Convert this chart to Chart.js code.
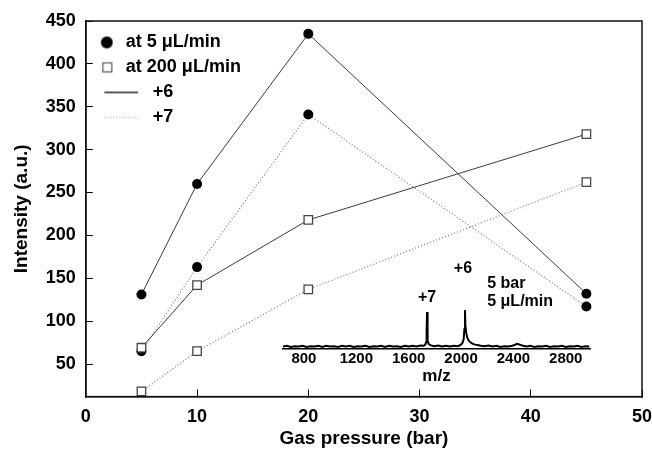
<!DOCTYPE html>
<html>
<head>
<meta charset="utf-8">
<script src="https://cdn.jsdelivr.net/npm/chart.js@4.4.1/dist/chart.umd.min.js"></script>
<style>
  body { margin: 0; background: #fff; }
  #wrap { position: relative; width: 652px; height: 450px; }
  #mainChart { position: absolute; left: 0; top: 0; }
  #insetChart { position: absolute; left: 270px; top: 255px; pointer-events: none; }
</style>
</head>
<body>
<div id="wrap">
  <canvas id="mainChart" width="652" height="450"></canvas>
  <canvas id="insetChart" width="340" height="135"></canvas>
</div>
<script>
// main plot: intensity vs gas pressure
const pressure = [5, 10, 20, 45];
const flow5Plus6 = [131, 260, 435, 132];
const flow5Plus7 = [65, 163, 341, 117];
const flow200Plus6 = [69, 142, 218, 318];
const flow200Plus7 = [18, 65, 137, 262];
const yTicks = [50, 100, 150, 200, 250, 300, 350, 400, 450];

// inset: mass spectrum at 5 bar, 5 uL/min
const specMz = [640, 670, 700, 730, 760, 790, 820, 850, 880, 910, 940, 970, 1000, 1030, 1060, 1090,
  1120, 1150, 1180, 1210, 1240, 1270, 1300, 1330, 1360, 1390, 1420, 1450, 1480, 1510, 1540, 1570,
  1600, 1630, 1660, 1690,
  1715, 1727, 1733, 1736, 1738, 1740, 1742, 1747, 1755, 1770,
  1795, 1825, 1855, 1885, 1915, 1945, 1975, 1995,
  2010, 2020, 2025, 2030, 2033, 2039, 2046, 2056, 2071, 2086, 2106, 2126,
  2150, 2180, 2210, 2240, 2270, 2300, 2330, 2360, 2390,
  2410, 2425, 2440, 2455, 2475,
  2500, 2530, 2560, 2590, 2620, 2650, 2680, 2710, 2740, 2770, 2800, 2830, 2860, 2890, 2920, 2950, 2980];
const specInt = [5, 7, 4, 6, 5, 7, 4, 6, 5, 7, 4, 7, 5, 6, 4, 7,
  5, 7, 4, 6, 5, 7, 4, 6, 5, 7, 4, 7, 5, 6, 4, 7,
  5, 7, 5, 8,
  7, 10, 16, 38, 42, 95, 36, 20, 11, 8,
  6, 8, 5, 7, 5, 7, 6, 9,
  14, 24, 50, 100, 62, 42, 30, 22, 16, 13, 10, 9,
  7, 6, 8, 5, 7, 4, 6, 5, 7,
  9, 12, 11, 9, 7,
  5, 7, 4, 6, 5, 7, 4, 6, 5, 7, 4, 6, 5, 7, 4, 6, 5];
const specTicks = [800, 1200, 1600, 2000, 2400, 2800];
const peakMz = [1740, 2030];
const peakLabels = ['+7', '+6'];
const specNote = ['5 bar', '5 μL/min'];

Chart.defaults.font.family = "'Liberation Sans', Arial, sans-serif";
Chart.defaults.color = '#000';

function makeIcon(w, h, draw) {
  const c = document.createElement('canvas');
  c.width = w; c.height = h;
  draw(c.getContext('2d'));
  return c;
}
const circleIcon = makeIcon(17, 14, g => {
  g.fillStyle = '#000';
  g.beginPath(); g.arc(10.5, 7, 6, 0, Math.PI * 2); g.fill();
});
const squareIcon = makeIcon(17, 14, g => {
  g.fillStyle = '#fff'; g.strokeStyle = '#555'; g.lineWidth = 1.2;
  g.fillRect(6.5, 2.5, 9, 9); g.strokeRect(6.5, 2.5, 9, 9);
});
const solidIcon = makeIcon(67, 4, g => {
  g.strokeStyle = '#222'; g.lineWidth = 1.3;
  g.beginPath(); g.moveTo(33, 2); g.lineTo(67, 2); g.stroke();
});
const dottedIcon = makeIcon(67, 4, g => {
  g.strokeStyle = '#888'; g.lineWidth = 1; g.setLineDash([1, 2]);
  g.beginPath(); g.moveTo(33, 2); g.lineTo(67, 2); g.stroke();
});

const legendItems = [
  { text: 'at 5 μL/min', pointStyle: circleIcon },
  { text: 'at 200 μL/min', pointStyle: squareIcon },
  { text: '\u2002\u2002\u2002+6', pointStyle: solidIcon },
  { text: '\u2002\u2002\u2002+7', pointStyle: dottedIcon }
].map(it => Object.assign(it, { fontColor: '#000', fillStyle: '#000', strokeStyle: '#000', lineWidth: 0, hidden: false }));

function series(values) {
  return pressure.map((x, i) => ({ x: x, y: values[i] }));
}
const solidLine = { borderColor: '#3a3a3a', borderWidth: 1, borderDash: [] };
const dottedLine = { borderColor: '#777', borderWidth: 1.2, borderDash: [1, 2.2] };
const circleMark = { pointStyle: 'circle', pointRadius: 5, pointBackgroundColor: '#000', pointBorderColor: '#000', pointBorderWidth: 0 };
const squareMark = { pointStyle: 'rect', pointRadius: 6, pointBackgroundColor: '#fff', pointBorderColor: '#444', pointBorderWidth: 1.3 };

const frame = {
  id: 'frame',
  afterDraw(chart) {
    const a = chart.chartArea, ctx = chart.ctx;
    ctx.save();
    ctx.strokeStyle = '#111'; ctx.lineWidth = 1.5;
    ctx.strokeRect(a.left, a.top, a.right - a.left, a.bottom - a.top);
    ctx.restore();
  }
};

const axisCommon = {
  grid: { display: true, drawOnChartArea: false, drawTicks: true, tickLength: -7, color: '#000', lineWidth: 1 },
  border: { display: true, color: '#000', width: 1.5 }
};

new Chart(document.getElementById('mainChart'), {
  type: 'scatter',
  data: {
    datasets: [
      Object.assign({ label: '200 +6', data: series(flow200Plus6), showLine: true }, solidLine, squareMark),
      Object.assign({ label: '200 +7', data: series(flow200Plus7), showLine: true }, dottedLine, squareMark),
      Object.assign({ label: '5 +6', data: series(flow5Plus6), showLine: true }, solidLine, circleMark),
      Object.assign({ label: '5 +7', data: series(flow5Plus7), showLine: true }, dottedLine, circleMark)
    ]
  },
  options: {
    responsive: false,
    animation: false,
    events: [],
    layout: { padding: { left: 10, right: 10, top: 21, bottom: 0 } },
    plugins: {
      tooltip: { enabled: false },
      legend: {
        position: 'chartArea',
        align: 'start',
        title: { display: true, text: '', font: { size: 22 }, padding: 0 },
        labels: {
          usePointStyle: true,
          pointStyleWidth: 24,
          padding: 7,
          font: { size: 18, weight: 'bold' },
          color: '#000',
          generateLabels: () => legendItems
        }
      }
    },
    scales: {
      x: Object.assign({
        type: 'linear', min: 0, max: 50,
        ticks: { stepSize: 10, font: { size: 18, weight: 'bold' }, padding: 17, maxRotation: 0 },
        title: { display: true, text: 'Gas pressure (bar)', font: { size: 19, weight: 'bold' }, padding: { top: 0, bottom: 0 } },
        afterFit: s => { s.height -= 18; s.paddingLeft = 0; s.paddingRight = 0; }
      }, axisCommon),
      y: Object.assign({
        type: 'linear', min: 12, max: 450,
        afterBuildTicks: s => { s.ticks = yTicks.map(v => ({ value: v })); },
        ticks: { font: { size: 18, weight: 'bold' }, padding: 17 },
        title: { display: true, text: 'Intensity (a.u.)', font: { size: 19, weight: 'bold' }, padding: { top: 0, bottom: 13 } },
        afterFit: s => { s.width -= 17; s.paddingTop = 0; s.paddingBottom = 0; }
      }, axisCommon)
    }
  },
  plugins: [frame]
});

const insetLabels = {
  id: 'insetLabels',
  afterDatasetsDraw(chart) {
    const xs = chart.scales.x, ys = chart.scales.y, ctx = chart.ctx;
    ctx.save();
    ctx.fillStyle = '#000';
    ctx.font = "bold 16px 'Liberation Sans', Arial, sans-serif";
    ctx.textBaseline = 'middle';
    ctx.textAlign = 'center';
    const peakTop = peakMz.map(m => {
      const i = specMz.indexOf(m);
      return i >= 0 ? specInt[i] : 100;
    });
    ctx.fillText(peakLabels[0], xs.getPixelForValue(peakMz[0]), ys.getPixelForValue(peakTop[0]) - 14);
    ctx.fillText(peakLabels[1], xs.getPixelForValue(peakMz[1]) - 2, ys.getPixelForValue(100) - 41);
    ctx.textAlign = 'left';
    ctx.fillText(specNote[0], xs.getPixelForValue(2200), ys.getPixelForValue(100) - 26);
    ctx.fillText(specNote[1], xs.getPixelForValue(2200), ys.getPixelForValue(100) - 8);
    ctx.restore();
  }
};

new Chart(document.getElementById('insetChart'), {
  type: 'line',
  data: {
    datasets: [{
      data: specMz.map((m, i) => ({ x: m, y: specInt[i] })),
      borderColor: '#000', borderWidth: 2, pointRadius: 0, tension: 0, fill: false
    }]
  },
  options: {
    responsive: false,
    animation: false,
    events: [],
    layout: { padding: { left: 13, right: 20, top: 55, bottom: 3 } },
    plugins: { legend: { display: false }, tooltip: { enabled: false } },
    scales: {
      x: {
        type: 'linear', min: 640, max: 2985,
        afterBuildTicks: s => { s.ticks = specTicks.map(v => ({ value: v })); },
        ticks: { font: { size: 15, weight: 'bold' }, padding: 1, maxRotation: 0, autoSkip: false, callback: v => String(v) },
        grid: { display: false, drawTicks: false },
        border: { display: true, color: '#000', width: 1.5 },
        title: { display: true, text: 'm/z', font: { size: 17, weight: 'bold' }, padding: 0 },
        afterFit: s => { s.paddingLeft = 0; s.paddingRight = 0; }
      },
      y: { display: false, min: 0, max: 100 }
    }
  },
  plugins: [insetLabels]
});
</script>
</body>
</html>
